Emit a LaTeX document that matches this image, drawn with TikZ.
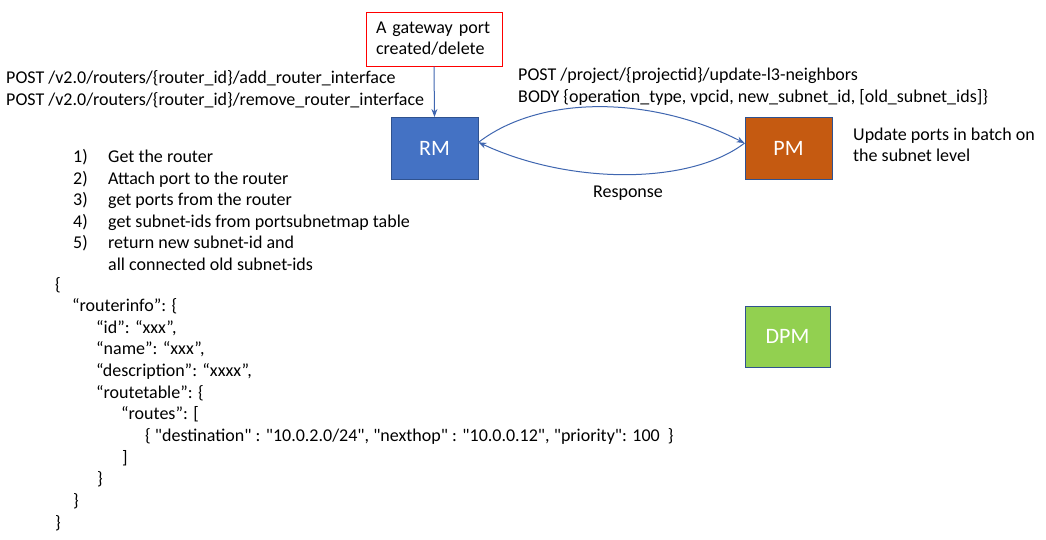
\documentclass[tikz,border=0pt]{standalone}
\usepackage{fontspec}
\setmainfont{Carlito}
\newfontfamily\jsonfont[Ligatures=ResetAll]{Carlito}
\usetikzlibrary{arrows.meta}
\definecolor{rmblue}{HTML}{4472C4}
\definecolor{edgeblue}{HTML}{2F528F}
\definecolor{pmorange}{HTML}{C55A11}
\definecolor{dpmgreen}{HTML}{92D050}
\definecolor{linkblue}{HTML}{3F66B0}
\begin{document}
\begin{tikzpicture}[x=1pt,y=-1pt,
  txt/.style={anchor=base west, inner sep=0pt, font=\fontsize{18}{21.6}\selectfont},
  json/.style={anchor=base west, inner sep=0pt, font=\jsonfont\fontsize{18}{21.6}\selectfont},
  module/.style={draw=edgeblue, line width=1pt, minimum width=87, minimum height=62, inner sep=0pt, text=white, font=\fontsize{22}{24}\selectfont},
  link/.style={draw=linkblue, line width=1pt, -{Stealth[length=8pt,width=6pt]}}]
\useasboundingbox[fill=white] (0,0) rectangle (1046,539);

% modules
\node[module, fill=rmblue] (rm) at (434.5,148.5) {RM};
\node[module, fill=pmorange] (pm) at (788.5,148.5) {PM};
\node[module, fill=dpmgreen, minimum width=85, minimum height=61] (dpm) at (787.5,336.5) {DPM};

% gateway box
\node[draw=red, line width=1pt, minimum width=136, minimum height=54, text width=116, align=left, inner sep=0pt, font=\fontsize{18}{21}\selectfont] (gw) at (434,39) {A gateway port\\created/delete};
\draw[link] (gw.south) -- (rm.north);

% RM <-> PM
\draw[link] (rm.8) .. controls (540,95) and (650,95) .. (pm.173);
\draw[link] (pm.173) .. controls (690,185) and (570,185) .. (rm.8);
\node[txt, anchor=base] (resp) at (628,197) {Response};

% API texts
\node[txt] (post1) at (6,83) {POST /v2.0/routers/\{router\_id\}/add\_router\_interface};
\node[txt] (post2) at (6,105) {POST /v2.0/routers/\{router\_id\}/remove\_router\_interface};
\node[txt] (post3) at (518,80.5) {POST /project/\{projectid\}/update-l3-neighbors};
\node[txt] (body) at (518,102) {BODY \{operation\_type, vpcid, new\_subnet\_id, [old\_subnet\_ids]\}};
\node[txt] (upd1) at (853,140) {Update ports in batch on};
\node[txt] (upd2) at (853,161.5) {the subnet level};

% numbered list
\node[txt] (n1) at (73,162.5) {1)};
\node[txt] (s1) at (108,162.5) {Get the router};
\node[txt] (n2) at (73,184.1) {2)};
\node[txt] (s2) at (108,184.1) {Attach port to the router};
\node[txt] (n3) at (73,205.7) {3)};
\node[txt] (s3) at (108,205.7) {get ports from the router};
\node[txt] (n4) at (73,227.3) {4)};
\node[txt] (s4) at (108,227.3) {get subnet-ids from portsubnetmap table};
\node[txt] (n5) at (73,248.9) {5)};
\node[txt] (s5) at (108,248.9) {return new subnet-id and};
\node[txt] (s6) at (108,270.5) {all connected old subnet-ids};

% JSON
\node[json] (j0) at (55,290) {\{};
\node[json] (j1) at (72,311.65) {“routerinfo”: \{};
\node[json] (j2) at (96,333.3) {“id”: “xxx”,};
\node[json] (j3) at (96,354.95) {“name”: “xxx”,};
\node[json] (j4) at (96,376.6) {“description”: “xxxx”,};
\node[json] (j5) at (96,398.25) {“routetable”: \{};
\node[json] (j6) at (121,419.9) {“routes”: [};
\node[json] (j7) at (145,441.55) {\{ "destination" : "10.0.2.0/24", "nexthop" : "10.0.0.12", "priority": 100~~\}};
\node[json] (j8) at (122,463.2) {]};
\node[json] (j9) at (97,484.85) {\}};
\node[json] (j10) at (73,506.5) {\}};
\node[json] (j11) at (55,528.15) {\}};
\end{tikzpicture}
\end{document}
